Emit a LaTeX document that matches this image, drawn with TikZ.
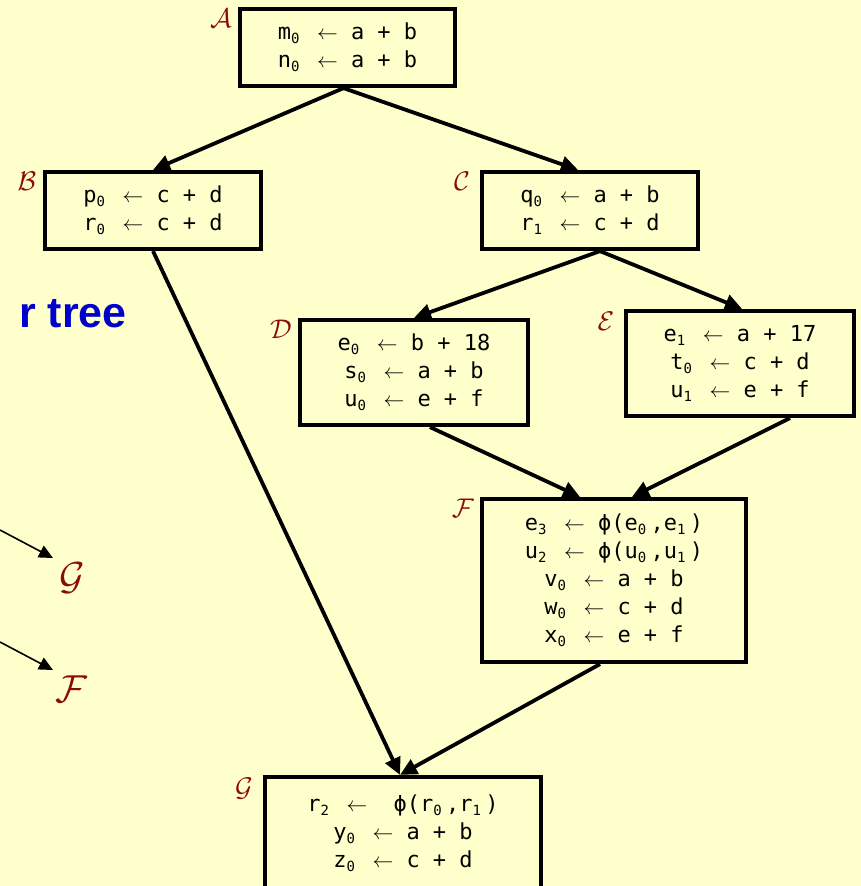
\documentclass[tikz,border=0pt]{standalone}
\usepackage{fontspec}
\newfontfamily\codefont{DejaVu Sans Mono}
\newfontfamily\headfont{Liberation Sans}
\usetikzlibrary{arrows.meta}
\definecolor{bg}{HTML}{FFFFCC}
\definecolor{lab}{HTML}{8B0A0A}
\definecolor{blu}{HTML}{0000CC}
\newcommand{\sbs}[1]{\makebox[0.58em][l]{\raisebox{-0.35ex}{\fontsize{14}{14}\selectfont #1}}}
\newcommand{\la}{$\leftarrow$}
\begin{document}
\begin{tikzpicture}[x=1pt,y=-1pt,
  blk/.style={draw, line width=4.2pt, fill=bg, inner sep=0pt, align=center,
    font=\codefont\fontsize{22}{28}\selectfont},
  edge/.style={line width=3.8pt, -{Triangle[length=17pt,width=16pt]}},
  thinedge/.style={line width=1.6pt, -{Triangle[length=14pt,width=13pt]}},
  lbl/.style={text=lab, scale=2.7, inner sep=0pt},
  biglbl/.style={text=lab, scale=3.9, inner sep=0pt}]
\useasboundingbox[fill=bg] (0,0) rectangle (861,886);

\node[blk, minimum width=215pt, minimum height=77pt] (A) at (347.5,47.5)
  {m\sbs{0} \la{} a + b\\ n\sbs{0} \la{} a + b};
\node[blk, minimum width=216pt, minimum height=77pt] (B) at (153,210.5)
  {p\sbs{0} \la{} c + d\\ r\sbs{0} \la{} c + d};
\node[blk, minimum width=216pt, minimum height=77pt] (C) at (590,210.5)
  {q\sbs{0} \la{} a + b\\ r\sbs{1} \la{} c + d};
\node[blk, minimum width=228pt, minimum height=105pt] (D) at (414,372.5)
  {e\sbs{0} \la{} b + 18\\ s\sbs{0} \la{} a + b\\ u\sbs{0} \la{} e + f};
\node[blk, minimum width=228pt, minimum height=105pt] (E) at (740,363.5)
  {e\sbs{1} \la{} a + 17\\ t\sbs{0} \la{} c + d\\ u\sbs{1} \la{} e + f};
\node[blk, minimum width=264pt, minimum height=163pt] (F) at (614,580.5)
  {e\sbs{3} \la{} ϕ(e\sbs{0},e\sbs{1})\\ u\sbs{2} \la{} ϕ(u\sbs{0},u\sbs{1})\\ v\sbs{0} \la{} a + b\\ w\sbs{0} \la{} c + d\\ x\sbs{0} \la{} e + f};
\node[blk, minimum width=276pt, minimum height=112pt] (G) at (403,833)
  {r\sbs{2} \la{}\hspace{1.2em}ϕ(r\sbs{0},r\sbs{1})\\ y\sbs{0} \la{} a + b\\ z\sbs{0} \la{} c + d};

\node[lbl] (LA) at (221,18) {$\mathcal{A}$};
\node[lbl] (LB) at (27,181) {$\mathcal{B}$};
\node[lbl] (LC) at (462,181) {$\mathcal{C}$};
\node[lbl] (LD) at (281,329) {$\mathcal{D}$};
\node[lbl] (LE) at (606,321) {$\mathcal{E}$};
\node[lbl] (LF) at (463,508) {$\mathcal{F}$};
\node[lbl] (LG) at (244,789) {$\mathcal{G}$};

\draw[edge] ([xshift=-4pt]A.south) -- (B.north);
\draw[edge] ([xshift=-4pt]A.south) -- ([xshift=-12pt]C.north);
\draw[edge] (B.south) -- ([xshift=-3pt]G.north);
\draw[edge] ([xshift=10pt]C.south) -- (D.north);
\draw[edge] ([xshift=10pt]C.south) -- ([xshift=2pt]E.north);
\draw[edge] ([xshift=16pt]D.south) -- ([xshift=-34pt]F.north);
\draw[edge] ([xshift=50pt]E.south) -- ([xshift=18pt]F.north);
\draw[edge] ([xshift=-14pt]F.south) -- ([xshift=-3pt]G.north);

\node[anchor=base west, inner sep=0pt, text=blu,
  font=\headfont\bfseries\fontsize{43}{43}\selectfont] (title) at (19,327) {r tree};

\coordinate (g0) at (0,530);
\coordinate (g1) at (53,558);
\coordinate (f0) at (0,642);
\coordinate (f1) at (53,670);
\draw[thinedge] (g0) -- (g1);
\draw[thinedge] (f0) -- (f1);
\node[biglbl] (LGb) at (72,578) {$\mathcal{G}$};
\node[biglbl] (LFb) at (71,689) {$\mathcal{F}$};
\end{tikzpicture}
\end{document}
